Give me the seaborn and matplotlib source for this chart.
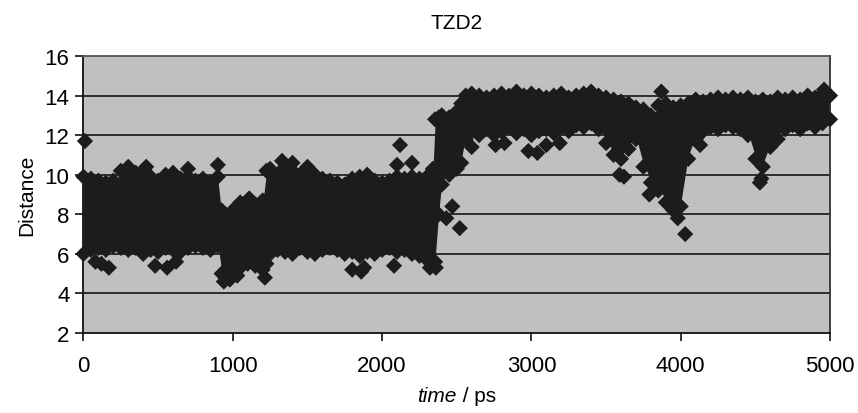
import numpy as np
import pandas as pd
import matplotlib
matplotlib.use("Agg")
import matplotlib.pyplot as plt
import seaborn as sns

# envelope of the dense cloud of distance values
time_ps = [0, 50, 100, 150, 200, 250, 300, 350, 400, 450, 500, 550, 600, 650, 700,
           750, 800, 850, 900, 925, 950, 1000, 1050, 1100, 1150, 1200, 1225, 1250,
           1300, 1350, 1400, 1450, 1500, 1550, 1600, 1650, 1700, 1750, 1800, 1850,
           1900, 1950, 2000, 2050, 2100, 2150, 2200, 2250, 2300, 2340, 2355, 2380, 2400,
           2450, 2500, 2530, 2560, 2600, 2650, 2700, 2750, 2800, 2850, 2900, 2950,
           3000, 3050, 3100, 3150, 3200, 3250, 3300, 3350, 3400, 3450, 3500, 3550,
           3600, 3650, 3700, 3750, 3800, 3850, 3900, 3950, 4000, 4050, 4100, 4150,
           4200, 4250, 4300, 4350, 4400, 4450, 4500, 4550, 4600, 4650, 4700, 4750,
           4800, 4850, 4900, 4950, 5000]
dist_low = [6.0, 6.2, 6.3, 6.2, 6.4, 6.3, 6.2, 6.3, 6.0, 6.2, 6.1, 6.3, 6.2, 6.1, 6.3,
            6.4, 6.3, 6.2, 6.4, 5.0, 4.8, 5.0, 5.3, 5.5, 5.4, 5.2, 5.5, 6.0,
            6.2, 6.1, 6.0, 6.3, 6.1, 6.0, 6.2, 6.3, 6.2, 6.0, 6.1, 5.9,
            6.1, 6.0, 6.2, 6.3, 6.1, 6.2, 6.0, 5.9, 5.7, 5.6, 5.6, 8.0, 9.5,
            10.0, 10.3, 10.6, 11.8, 12.2, 12.0, 12.3, 12.0, 12.2, 12.4, 12.1, 12.3,
            12.0, 12.2, 12.3, 12.1, 12.4, 12.2, 12.5, 12.4, 12.6, 12.3, 11.6, 11.0,
            10.8, 11.3, 11.8, 10.4, 9.6, 9.2, 8.6, 8.2, 8.4, 10.8, 11.8, 12.2,
            12.4, 12.3, 12.5, 12.4, 12.3, 12.0, 10.8, 10.4, 11.4, 11.8, 12.3, 12.5,
            12.3, 12.6, 12.4, 12.6, 12.8]
dist_high = [9.9, 9.8, 9.7, 9.6, 9.7, 10.2, 10.3, 10.1, 10.2, 9.9, 9.7, 10.0, 10.1, 9.8, 9.9,
             9.7, 9.8, 9.6, 9.9, 8.2, 8.0, 8.2, 8.6, 8.7, 8.5, 8.7, 10.2, 10.3,
             10.0, 10.4, 10.2, 10.0, 9.9, 10.0, 9.8, 9.7, 9.6, 9.5, 9.8, 9.9,
             10.0, 9.7, 9.6, 9.7, 9.9, 9.8, 9.9, 9.8, 9.9, 10.3, 12.8, 12.9, 13.0,
             12.9, 13.2, 13.6, 14.0, 14.1, 14.0, 13.9, 14.0, 14.1, 14.0, 14.2, 14.0,
             14.1, 14.0, 13.9, 14.0, 14.1, 13.9, 14.0, 14.1, 14.2, 14.0, 13.9, 13.8,
             13.7, 13.6, 13.4, 13.3, 13.0, 13.5, 13.6, 13.4, 13.5, 13.6, 13.8, 13.7,
             13.8, 13.9, 13.8, 13.9, 13.8, 13.9, 13.7, 13.8, 13.7, 13.9, 13.8, 13.9,
             13.8, 14.0, 13.9, 14.1, 14.0]

# scattered single points outside the dense band
out_t = [10, 80, 120, 170, 300, 420, 480, 560, 620, 700, 900, 940, 980, 1030, 1110,
         1215, 1330, 1400, 1500, 1800, 1860, 1880, 2080, 2100, 2120, 2200, 2320, 2360,
         2430, 2470, 2520, 2600, 2760, 2820, 2980, 3040, 3100, 3190, 3590, 3620, 3790,
         3870, 3980, 4030, 4130, 4530, 4540, 4960]
out_d = [11.7, 5.6, 5.5, 5.3, 10.4, 10.4, 5.4, 5.3, 5.6, 10.3, 10.5, 4.6, 4.7, 4.9, 8.8,
         4.8, 10.7, 10.6, 10.4, 5.2, 5.1, 5.3, 5.4, 10.5, 11.5, 10.6, 5.3, 5.3,
         7.8, 8.4, 7.3, 11.4, 11.5, 11.6, 11.2, 11.1, 11.5, 11.6, 10.0, 9.9, 9.0,
         14.2, 7.8, 7.0, 11.5, 9.6, 9.8, 14.3]

sns.set_style("ticks")
plt.rcParams["font.family"] = ["Liberation Sans", "DejaVu Sans"]
plt.rcParams["text.color"] = "black"
plt.rcParams["axes.labelcolor"] = "black"

fig = plt.figure(figsize=(8.58, 4.14), dpi=100)
ax = fig.add_axes([0.0973, 0.1932, 0.8701, 0.6691])
ax.set_facecolor("#c0c0c0")

for yv in range(4, 16, 2):
    ax.axhline(yv, color="#222222", lw=1.3, zorder=1)

mark = "#1c1c1c"
ax.fill_between(time_ps, np.array(dist_low) + 0.15, np.array(dist_high) - 0.15,
                color=mark, lw=0, zorder=2)

edges = pd.DataFrame({"t": time_ps + time_ps, "d": dist_low + dist_high})
sns.scatterplot(data=edges, x="t", y="d", marker="D", s=68, color=mark,
                edgecolor="none", ax=ax, zorder=3, clip_on=False)
singles = pd.DataFrame({"t": out_t, "d": out_d})
sns.scatterplot(data=singles, x="t", y="d", marker="D", s=68, color=mark,
                edgecolor="none", ax=ax, zorder=3, clip_on=False)

ax.set_xlim(0, 5000)
ax.set_ylim(2, 16)
ax.set_xticks(range(0, 5001, 1000))
ax.set_yticks(range(2, 17, 2))
ax.tick_params(axis="both", direction="out", length=6, width=1.2, colors="#111111",
               labelsize=16, labelcolor="black")
ax.tick_params(axis="x", pad=10)
ax.tick_params(axis="y", pad=4)

for side in ["left", "bottom"]:
    ax.spines[side].set_color("#111111")
    ax.spines[side].set_linewidth(1.3)
ax.spines["top"].set_visible(True)
ax.spines["right"].set_visible(True)
ax.spines["top"].set_color("#555555")
ax.spines["top"].set_linewidth(1.3)
ax.spines["right"].set_color("#333333")
ax.spines["right"].set_linewidth(1.3)

ax.set_title("TZD2", fontsize=15, pad=20, color="black")
ax.set_xlabel("")
fig.text(0.5325, 0.03, "time", style="italic", fontsize=15, ha="right")
fig.text(0.5325, 0.03, " / ps", fontsize=15, ha="left")
ax.set_ylabel("Distance", fontsize=15, labelpad=6)

fig.savefig("out.png", dpi=100)
